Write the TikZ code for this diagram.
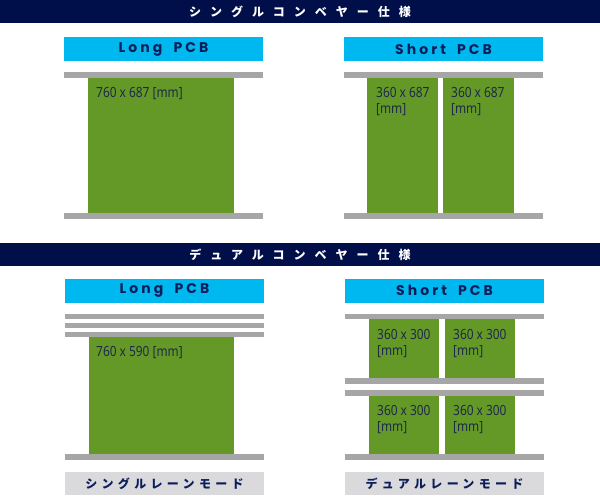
\documentclass[tikz,border=0pt]{standalone}
\usepackage{fontspec}
\setmainfont{Noto Sans}
\newfontfamily\headfont[LetterSpace=75]{Noto Sans CJK JP}
\newfontfamily\modefont[LetterSpace=36]{Noto Sans CJK JP}
\newfontfamily\titlefont[LetterSpace=22]{Poppins}
\newfontfamily\dimfont[FakeStretch=0.85]{Noto Sans}
\usetikzlibrary{positioning}

\definecolor{navy}{RGB}{0,15,74}
\definecolor{barcyan}{RGB}{0,184,240}
\definecolor{pcbgreen}{RGB}{101,153,39}
\definecolor{railgrey}{RGB}{166,166,166}
\definecolor{modegrey}{RGB}{218,218,220}
\definecolor{inkblue}{RGB}{12,30,90}
\definecolor{dimink}{RGB}{30,42,72}

\begin{document}
\begin{tikzpicture}[x=1pt,y=-1pt,
    header/.style={fill=navy, text=white, minimum width=600pt, minimum height=23pt,
        inner sep=0pt, font=\headfont\bfseries\fontsize{12}{14}\selectfont},
    titlebar/.style={fill=barcyan, text=inkblue, minimum width=199pt, minimum height=24pt,
        inner sep=0pt, font=\titlefont\bfseries\fontsize{14}{16}\selectfont},
    modebox/.style={fill=modegrey, text=inkblue, minimum width=199pt, minimum height=23pt,
        inner sep=0pt, font=\modefont\bfseries\fontsize{12}{14}\selectfont},
    rail/.style={fill=railgrey},
    pcb/.style={fill=pcbgreen},
    dimtext/.style={anchor=north west, inner sep=0pt, text=dimink, align=left,
        font=\dimfont\fontsize{14}{16}\selectfont}]
    \useasboundingbox (0,0) rectangle (600,499);

    % Single conveyor
    \node[header] (single) at (300,11.5) {シングルコンベヤー仕様};

    \node[titlebar] (longA) at (163.5,49) {Long\hspace{5pt} PCB};
    \fill[rail] (64,72) rectangle (263,78);
    \fill[pcb] (88,78) rectangle (234,213);
    \fill[rail] (64,213) rectangle (263,219);
    \node[dimtext] (dimA) at (96,87) {760 x 687 [mm]};

    \node[titlebar] (shortA) at (443.5,49) {Short\hspace{5pt} PCB};
    \fill[rail] (344,72) rectangle (543,78);
    \fill[pcb] (367,78) rectangle (438,213);
    \fill[pcb] (443,78) rectangle (514,213);
    \fill[rail] (344,213) rectangle (543,219);
    \node[dimtext] (dimB) at (376,87) {360 x 687\\{}[mm]};
    \node[dimtext] (dimC) at (451,87) {360 x 687\\{}[mm]};

    % Dual conveyor
    \node[header] (dual) at (300,254.5) {デュアルコンベヤー仕様};

    \node[titlebar] (longB) at (164.5,290.5) {Long\hspace{5pt} PCB};
    \fill[rail] (65,314) rectangle (264,319);
    \fill[rail] (65,323) rectangle (264,328);
    \fill[rail] (65,332) rectangle (264,337);
    \fill[pcb] (89,337) rectangle (234,454);
    \fill[rail] (65,454) rectangle (264,460);
    \node[dimtext] (dimD) at (96,346) {760 x 590 [mm]};
    \node[modebox] (singlelane) at (164.5,483.5) {シングルレーンモード};

    \node[titlebar] (shortB) at (444.5,290.5) {Short\hspace{5pt} PCB};
    \fill[rail] (345,314) rectangle (544,319);
    \fill[pcb] (369,319) rectangle (439,378);
    \fill[pcb] (445,319) rectangle (515,378);
    \fill[rail] (345,378) rectangle (544,384);
    \fill[rail] (345,390) rectangle (544,396);
    \fill[pcb] (369,396) rectangle (439,454);
    \fill[pcb] (445,396) rectangle (515,454);
    \fill[rail] (345,454) rectangle (544,460);
    \node[dimtext] (dimE) at (377,329) {360 x 300\\{}[mm]};
    \node[dimtext] (dimF) at (453,329) {360 x 300\\{}[mm]};
    \node[dimtext] (dimG) at (377,405) {360 x 300\\{}[mm]};
    \node[dimtext] (dimH) at (453,405) {360 x 300\\{}[mm]};
    \node[modebox] (duallane) at (444.5,483.5) {デュアルレーンモード};
\end{tikzpicture}
\end{document}
